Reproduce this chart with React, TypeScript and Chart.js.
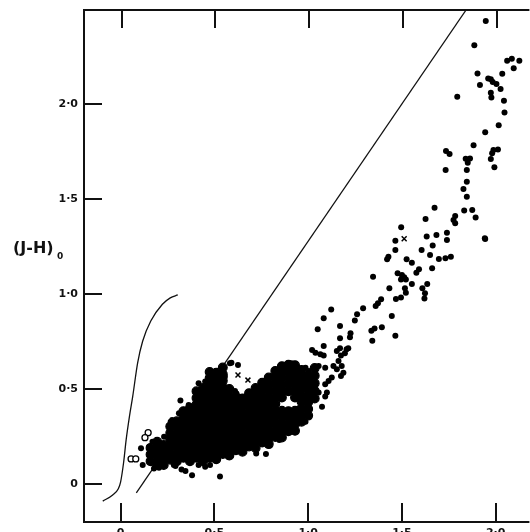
import React, { useEffect, useRef } from "react";
import { Chart, registerables } from "chart.js";

Chart.register(...registerables);

// Axis ticks
const xTicks = [0, 0.5, 1.0, 1.5, 2.0];
const xTickLabels = ["0", "0·5", "1·0", "1·5", "2·0"];
const yTicks = [0, 0.5, 1.0, 1.5, 2.0];
const yTickLabels = ["0", "0·5", "1·0", "1·5", "2·0"];
const xLimits = [-0.195, 2.153];
const yLimits = [-0.2, 2.495];

// Dense cluster of stars (columns of (H-K)0 with their (J-H)0 values)
const clusterX = [0.16, 0.195, 0.23, 0.265, 0.3, 0.335, 0.37, 0.405, 0.44, 0.475, 0.51, 0.545, 0.58, 0.615, 0.65, 0.685, 0.72, 0.755, 0.79, 0.825, 0.86, 0.895, 0.93, 0.965, 1.0, 1.035];
const clusterY = [
  [0.12, 0.155, 0.19],
  [0.1, 0.118, 0.153, 0.188, 0.222],
  [0.1, 0.135, 0.17, 0.205],
  [0.128, 0.163, 0.198, 0.233, 0.268, 0.303],
  [0.12, 0.155, 0.19, 0.225, 0.26, 0.295, 0.33],
  [0.138, 0.173, 0.208, 0.243, 0.278, 0.313, 0.348, 0.383],
  [0.12, 0.155, 0.19, 0.225, 0.26, 0.295, 0.33, 0.365, 0.4],
  [0.138, 0.173, 0.208, 0.243, 0.278, 0.313, 0.348, 0.383, 0.418, 0.453, 0.488],
  [0.12, 0.155, 0.19, 0.225, 0.26, 0.295, 0.33, 0.365, 0.4, 0.435, 0.47, 0.505],
  [0.138, 0.173, 0.208, 0.243, 0.278, 0.313, 0.348, 0.383, 0.418, 0.453, 0.488, 0.523, 0.558, 0.59],
  [0.13, 0.165, 0.2, 0.235, 0.27, 0.305, 0.34, 0.375, 0.41, 0.445, 0.48, 0.515, 0.55, 0.585],
  [0.158, 0.193, 0.228, 0.263, 0.298, 0.333, 0.368, 0.403, 0.438, 0.473, 0.508, 0.543, 0.578, 0.613],
  [0.15, 0.185, 0.22, 0.255, 0.29, 0.325, 0.36, 0.395, 0.43, 0.465, 0.5],
  [0.178, 0.213, 0.248, 0.283, 0.318, 0.353, 0.388, 0.423, 0.458],
  [0.17, 0.205, 0.24, 0.275, 0.31, 0.345, 0.38, 0.415, 0.45],
  [0.198, 0.233, 0.268, 0.303, 0.338, 0.373, 0.408, 0.443, 0.478],
  [0.19, 0.225, 0.26, 0.295, 0.33, 0.365, 0.4, 0.435, 0.47, 0.505],
  [0.218, 0.253, 0.288, 0.323, 0.358, 0.393, 0.428, 0.463, 0.498, 0.533],
  [0.21, 0.245, 0.28, 0.315, 0.35, 0.385, 0.42, 0.455, 0.49, 0.525, 0.56],
  [0.248, 0.283, 0.318, 0.353, 0.388, 0.423, 0.458, 0.493, 0.528, 0.563, 0.595],
  [0.245, 0.28, 0.315, 0.35, 0.385, 0.455, 0.49, 0.525, 0.56, 0.595, 0.62],
  [0.278, 0.313, 0.348, 0.383, 0.488, 0.523, 0.558, 0.593, 0.628],
  [0.28, 0.315, 0.35, 0.385, 0.455, 0.49, 0.525, 0.56, 0.595, 0.625],
  [0.328, 0.363, 0.398, 0.433, 0.468, 0.503, 0.538, 0.573, 0.6],
  [0.36, 0.395, 0.43, 0.465, 0.5, 0.535, 0.57],
  [0.45, 0.49, 0.53, 0.57, 0.61],
];

// Individually resolved stars (filled circles)
const starsX = [
  0.109, 0.118, 0.153, 0.17, 0.178, 0.205, 0.232, 0.275, 0.267, 0.311, 0.319, 0.346, 0.363, 0.381,
  0.284, 0.293, 0.325, 0.346, 0.381, 0.416, 0.451, 0.477, 0.53,
  0.416, 0.451, 0.442, 0.407, 0.468, 0.433,
  0.583, 0.591, 0.626, 0.539, 0.521, 0.556, 0.504, 0.53, 0.486,
  0.618, 0.626, 0.661, 0.61, 0.723, 0.70,
  0.574, 0.591, 0.626, 0.723, 0.775, 0.846, 0.986,
  0.912, 0.889, 0.916, 0.968, 0.986, 1.004, 1.004, 1.021, 1.039, 1.056, 1.03,
  1.083, 1.123, 1.051, 1.083, 1.021, 1.039, 1.065, 1.083,
  1.153, 1.175, 1.196, 1.205, 1.162, 1.135, 1.179, 1.153, 1.188, 1.175,
  1.056, 1.091, 1.126, 1.109, 1.091, 1.1, 1.091, 1.074,
  1.17, 1.214, 1.342, 1.17, 1.226, 1.223, 1.465, 1.354, 1.337, 1.393, 1.17, 1.249, 1.261, 1.446, 1.293,
  1.389, 1.372, 1.36, 1.468, 1.495, 1.609, 1.623, 1.62, 1.516, 1.521, 1.433, 1.553, 1.635,
  1.477, 1.5, 1.512, 1.495, 1.521, 1.346, 1.591, 1.577, 1.661, 1.65, 1.428, 1.421, 1.525, 1.553,
  1.465, 1.605, 1.664, 1.465, 1.496,
  1.632, 1.684, 1.74, 1.74, 1.944, 1.697, 1.732, 1.761,
  1.626, 1.674, 1.784, 1.775, 1.784, 1.832, 1.875, 1.893, 1.942,
  1.828, 1.846, 1.846, 1.733, 1.846, 1.993,
  1.84, 1.863, 1.851, 1.974,
  1.735, 1.754, 1.988, 2.012, 1.981,
  1.882, 1.944, 2.016, 2.047, 2.044, 1.795,
  1.974, 1.977, 2.026, 1.916, 1.974, 1.984, 2.004, 1.96, 2.035, 1.903,
  2.061, 2.086, 2.126, 2.096, 1.886, 1.947,
];
const starsY = [
  0.188, 0.1, 0.196, 0.223, 0.082, 0.085, 0.249, 0.337, 0.328, 0.372, 0.44, 0.363, 0.416, 0.372,
  0.1, 0.095, 0.077, 0.068, 0.046, 0.1, 0.091, 0.1, 0.039,
  0.53, 0.539, 0.504, 0.477, 0.477, 0.46,
  0.635, 0.638, 0.626, 0.591, 0.574, 0.565, 0.539, 0.53, 0.512,
  0.477, 0.416, 0.433, 0.49, 0.495, 0.47,
  0.144, 0.161, 0.179, 0.161, 0.158, 0.232, 0.328,
  0.635, 0.604, 0.586, 0.586, 0.612, 0.595, 0.551, 0.525, 0.498, 0.481, 0.463,
  0.872, 0.919, 0.814, 0.726, 0.705, 0.691, 0.683, 0.677,
  0.7, 0.677, 0.688, 0.709, 0.647, 0.621, 0.621, 0.604, 0.586, 0.568,
  0.621, 0.612, 0.56, 0.542, 0.525, 0.481, 0.46, 0.407,
  0.714, 0.714, 0.754, 0.767, 0.793, 0.772, 0.781, 0.819, 0.807, 0.825, 0.832, 0.86, 0.893, 0.884, 0.925,
  0.972, 0.951, 0.937, 0.974, 0.982, 1.03, 1.004, 0.977, 1.03, 1.007, 1.03, 1.053, 1.053,
  1.109, 1.1, 1.088, 1.077, 1.077, 1.091, 1.13, 1.112, 1.135, 1.205, 1.196, 1.183, 1.183, 1.165,
  1.232, 1.232, 1.256, 1.281, 1.351,
  1.303, 1.311, 1.284, 1.323, 1.289, 1.184, 1.188, 1.196,
  1.395, 1.454, 1.411, 1.389, 1.372, 1.439, 1.442, 1.403, 1.293,
  1.553, 1.512, 1.591, 1.653, 1.653, 1.667,
  1.712, 1.714, 1.691, 1.711,
  1.753, 1.737, 1.758, 1.761, 1.741,
  1.783, 1.851, 1.888, 1.956, 2.017, 2.038,
  2.06, 2.035, 2.079, 2.1, 2.13, 2.116, 2.105, 2.135, 2.159, 2.161,
  2.228, 2.239, 2.228, 2.188, 2.309, 2.437,
];

// Open circles
const openX = [0.056, 0.081, 0.147, 0.13];
const openY = [0.132, 0.132, 0.27, 0.244];

// Crosses
const crossX = [0.626, 0.679, 1.512];
const crossY = [0.574, 0.547, 1.291];

// Intrinsic (dwarf) locus curve
const curveX = [-0.095, -0.042, -0.012, 0.0, 0.016, 0.03, 0.048, 0.065, 0.091, 0.118, 0.161, 0.223, 0.265, 0.305];
const curveY = [-0.09, -0.058, -0.025, 0.01, 0.112, 0.235, 0.36, 0.463, 0.638, 0.753, 0.858, 0.946, 0.98, 0.995];

// Reddening line
const lineX = [0.084, 1.842];
const lineY = [-0.047, 2.495];

const zip = (xs: number[], ys: number[]) => xs.map((x, i) => ({ x, y: ys[i] }));

const framePlugin = {
  id: "framePlugin",
  afterDraw(chart: any) {
    const { ctx, chartArea: a, scales } = chart;
    const xs = scales.x;
    const ys = scales.y;
    ctx.save();
    ctx.strokeStyle = "#111";
    ctx.lineWidth = 2;
    ctx.beginPath();
    ctx.moveTo(a.right + 5, a.top);
    ctx.lineTo(a.left, a.top);
    ctx.lineTo(a.left, a.bottom);
    ctx.lineTo(a.right + 5, a.bottom);
    ctx.stroke();
    ctx.beginPath();
    xTicks.forEach((v) => {
      const px = Math.round(xs.getPixelForValue(v));
      ctx.moveTo(px, a.bottom);
      ctx.lineTo(px, a.bottom - 19);
      ctx.moveTo(px + 1, a.top);
      ctx.lineTo(px + 1, a.top + 18);
    });
    yTicks.forEach((v) => {
      const py = Math.round(ys.getPixelForValue(v));
      ctx.moveTo(a.left, py);
      ctx.lineTo(a.left + 18, py);
    });
    ctx.stroke();
    ctx.fillStyle = "#111";
    ctx.textBaseline = "alphabetic";
    ctx.textAlign = "left";
    ctx.font = 'bold 16px "DejaVu Sans"';
    ctx.fillText("(J-H)", 13, 253);
    ctx.font = 'bold 9px "DejaVu Sans"';
    ctx.fillText("0", 57, 259);
    ctx.restore();
  },
};

export default function App() {
  const ref = useRef<HTMLCanvasElement | null>(null);
  useEffect(() => {
    if (!ref.current) return;
    const clusterPts = clusterX.flatMap((x, i) => clusterY[i].map((y) => ({ x, y })));
    const chart = new Chart(ref.current, {
      type: "scatter",
      data: {
        datasets: [
          {
            label: "locus",
            data: zip(curveX, curveY),
            showLine: true,
            borderColor: "#111",
            borderWidth: 1.3,
            pointRadius: 0,
            cubicInterpolationMode: "monotone",
            order: 3,
          } as any,
          {
            label: "reddening",
            data: zip(lineX, lineY),
            showLine: true,
            borderColor: "#111",
            borderWidth: 1.3,
            pointRadius: 0,
            order: 3,
          } as any,
          {
            label: "cluster",
            data: clusterPts,
            pointBackgroundColor: "#000",
            pointBorderColor: "#000",
            pointBorderWidth: 1.2,
            pointRadius: 4.4,
            order: 1,
          } as any,
          {
            label: "stars",
            data: zip(starsX, starsY),
            pointBackgroundColor: "#000",
            pointBorderWidth: 0,
            pointRadius: 3,
            order: 1,
          } as any,
          {
            label: "open",
            data: zip(openX, openY),
            pointBackgroundColor: "#fff",
            pointBorderColor: "#000",
            pointBorderWidth: 1.3,
            pointRadius: 3,
            order: 0,
          } as any,
          {
            label: "cross",
            data: zip(crossX, crossY),
            pointStyle: "crossRot",
            pointBorderColor: "#000",
            pointBorderWidth: 1.5,
            pointRadius: 3.5,
            order: 0,
          } as any,
        ],
      },
      options: {
        animation: false,
        responsive: false,
        events: [],
        layout: { padding: { top: 10, left: 0, right: 0, bottom: 0 } },
        plugins: { legend: { display: false }, tooltip: { enabled: false } },
        scales: {
          x: {
            type: "linear",
            min: xLimits[0],
            max: xLimits[1],
            grid: { display: false, drawTicks: false },
            border: { display: false },
            ticks: {
              padding: 5,
              color: "#111",
              font: { family: "DejaVu Sans", size: 11, weight: "bold" },
              callback: (v: any) => {
                const i = xTicks.indexOf(Number(v));
                return i >= 0 ? xTickLabels[i] : "";
              },
            },
            afterBuildTicks: (s: any) => {
              s.ticks = xTicks.map((value) => ({ value }));
            },
            afterFit: (s: any) => {
              s.height = 10;
              s.paddingLeft = 0;
              s.paddingRight = 0;
            },
          },
          y: {
            type: "linear",
            min: yLimits[0],
            max: yLimits[1],
            grid: { display: false, drawTicks: false },
            border: { display: false },
            ticks: {
              padding: 6,
              color: "#111",
              font: { family: "DejaVu Sans", size: 11, weight: "bold" },
              callback: (v: any) => {
                const i = yTicks.indexOf(Number(v));
                return i >= 0 ? yTickLabels[i] : "";
              },
            },
            afterBuildTicks: (s: any) => {
              s.ticks = yTicks.map((value) => ({ value }));
            },
            afterFit: (s: any) => {
              s.width = 84;
              s.paddingTop = 0;
              s.paddingBottom = 0;
            },
          },
        },
      },
      plugins: [framePlugin],
    } as any);
    return () => chart.destroy();
  }, []);
  return (
    <div style={{ position: "fixed", left: 0, top: 0, width: 530, height: 532, background: "#fff" }}>
      <canvas ref={ref} width={530} height={532} style={{ display: "block", width: 530, height: 532 }} />
    </div>
  );
}
